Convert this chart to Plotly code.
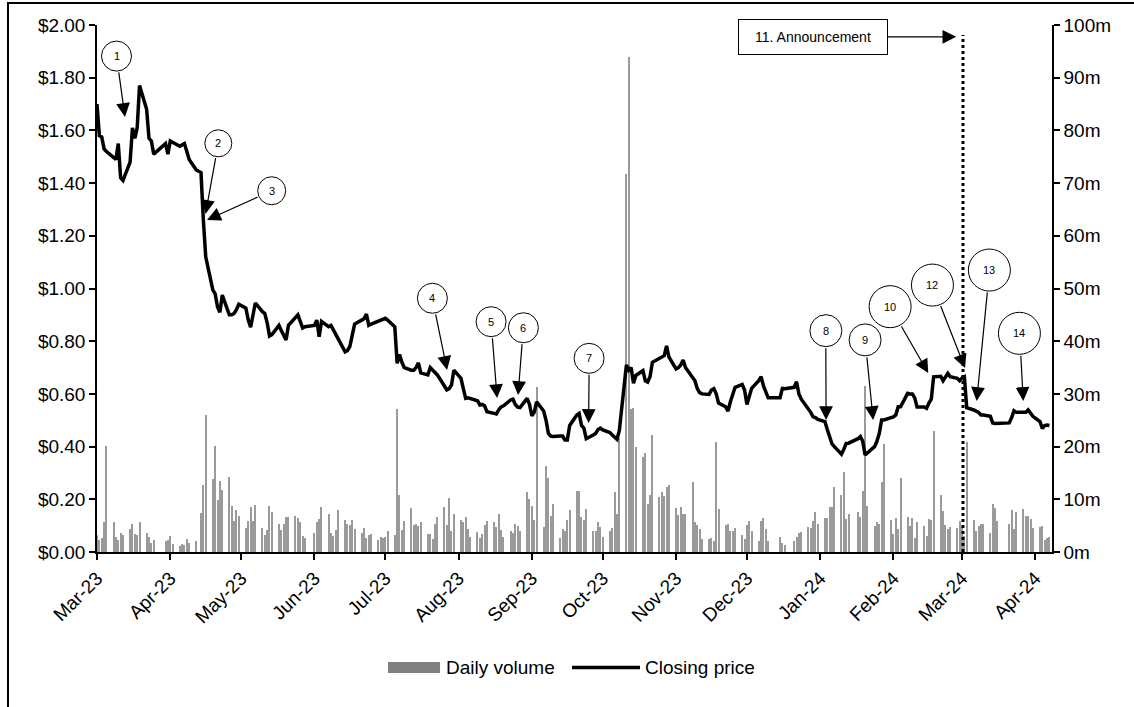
import pandas as pd
import plotly.graph_objects as go

# ---------------- data ----------------
start_date = "2023-03-13"
end_date = "2024-04-19"
market_holidays = ["2023-04-07", "2023-04-10", "2023-04-25", "2023-06-12", "2023-12-25",
                   "2023-12-26", "2024-01-01", "2024-01-26", "2024-03-29", "2024-04-01"]

# closing price ($) per trading day, by calendar month
price_mar23 = [1.70, 1.58, 1.575, 1.53, 1.52, 1.50, 1.49, 1.55, 1.42, 1.41, 1.48, 1.61, 1.57, 1.61, 1.77]
price_apr23 = [1.68, 1.57, 1.56, 1.51, 1.55, 1.51, 1.56, 1.555, 1.54, 1.545, 1.55, 1.52, 1.49,
               1.45, 1.44, 1.26, 1.12]
price_may23 = [0.995, 0.98, 0.93, 0.91, 0.975, 0.90, 0.90, 0.905, 0.92, 0.94, 0.925, 0.88, 0.853,
               0.90, 0.945, 0.912, 0.905, 0.87, 0.82, 0.825, 0.86, 0.84, 0.82]
price_jun23 = [0.805, 0.86, 0.89, 0.90, 0.875, 0.85, 0.855, 0.86, 0.88, 0.817, 0.875, 0.855, 0.86,
               0.842, 0.83, 0.81, 0.76, 0.765, 0.78, 0.83, 0.865]
price_jul23 = [0.88, 0.885, 0.903, 0.86, 0.865, 0.875, 0.88, 0.885, 0.887, 0.88, 0.855, 0.716, 0.75,
               0.72, 0.70, 0.69, 0.69, 0.70, 0.718, 0.68, 0.672]
price_aug23 = [0.70, 0.69, 0.68, 0.672, 0.63, 0.615, 0.62, 0.634, 0.69, 0.659, 0.62, 0.583, 0.585,
               0.583, 0.574, 0.558, 0.56, 0.555, 0.532, 0.526, 0.524, 0.54, 0.551]
price_sep23 = [0.555, 0.577, 0.58, 0.56, 0.55, 0.548, 0.583, 0.56, 0.517, 0.53, 0.57, 0.535, 0.50,
               0.45, 0.44, 0.438, 0.44, 0.44, 0.425, 0.425, 0.48]
price_oct23 = [0.52, 0.526, 0.48, 0.47, 0.43, 0.444, 0.45, 0.465, 0.47, 0.463, 0.453, 0.444, 0.435,
               0.428, 0.46, 0.71, 0.69, 0.70, 0.64, 0.67, 0.688, 0.65]
price_nov23 = [0.645, 0.665, 0.72, 0.735, 0.74, 0.745, 0.782, 0.74, 0.695, 0.70, 0.71, 0.729, 0.70,
               0.665, 0.65, 0.62, 0.605, 0.60, 0.598, 0.615, 0.62, 0.60]
price_dec23 = [0.565, 0.551, 0.535, 0.57, 0.60, 0.625, 0.636, 0.615, 0.56, 0.59, 0.621, 0.65, 0.665,
               0.63, 0.61, 0.585, 0.585, 0.621, 0.62]
price_jan24 = [0.625, 0.646, 0.60, 0.58, 0.545, 0.53, 0.513, 0.51, 0.503, 0.495, 0.465, 0.44, 0.41,
               0.40, 0.371, 0.39, 0.412, 0.413, 0.43, 0.438, 0.42]
price_feb24 = [0.368, 0.375, 0.40, 0.42, 0.45, 0.501, 0.501, 0.51, 0.513, 0.52, 0.551, 0.551, 0.602,
               0.60, 0.60, 0.585, 0.55, 0.55, 0.545, 0.565, 0.58]
price_mar24 = [0.665, 0.667, 0.65, 0.665, 0.678, 0.665, 0.659, 0.65, 0.66, 0.665, 0.548, 0.539, 0.535,
               0.53, 0.52, 0.52, 0.515, 0.49, 0.488, 0.488]
price_apr24 = [0.49, 0.51, 0.536, 0.53, 0.53, 0.53, 0.539, 0.525, 0.515, 0.495, 0.469, 0.48, 0.482, 0.48]

# daily volume (millions of shares) per trading day, by calendar month
vol_mar23 = [3.2, 2.3, 2.6, 5.6, 20.1, 5.6, 2.8, 2.3, 3.7, 3.3, 4.4, 5.4, 3.4, 3.2, 5.6]
vol_apr23 = [3.7, 2.8, 1.8, 2.2, 2.0, 2.3, 3.0, 1.5, 1.2, 1.6, 1.3, 2.4, 1.8, 2.1, 7.4, 12.7, 26.0]
vol_may23 = [13.8, 20.1, 9.9, 13.5, 11.8, 14.2, 8.7, 5.9, 7.9, 6.8, 4.5, 5.8, 8.5, 5.9, 9.0,
             4.5, 3.3, 4.2, 8.7, 7.5, 5.3, 4.2, 5.3]
vol_jun23 = [6.6, 6.6, 6.9, 6.5, 5.7, 3.0, 2.6, 3.7, 5.6, 6.3, 8.5, 7.2, 3.7, 3.0, 4.2, 8.0,
             6.0, 5.3, 5.1, 6.1, 4.4]
vol_jul23 = [3.7, 4.5, 2.7, 3.3, 3.5, 2.3, 2.8, 2.6, 2.8, 3.9, 3.2, 27.2, 10.8, 4.2, 5.9,
             8.4, 5.1, 5.3, 4.9, 5.6, 3.5]
vol_aug23 = [3.5, 2.5, 5.4, 6.6, 8.5, 5.1, 10.3, 4.0, 7.3, 6.0, 5.6, 6.7, 4.4, 2.9,
             3.8, 2.6, 3.5, 5.1, 5.8, 5.6, 4.7, 7.3, 4.2]
vol_sep23 = [2.8, 3.9, 3.7, 5.4, 4.9, 3.9, 11.4, 10.0, 8.7, 6.1, 31.4, 4.7, 16.4, 14.0, 6.9, 9.1,
             2.6, 4.4, 3.9, 6.1, 8.0]
vol_oct23 = [11.6, 11.6, 6.6, 6.1, 8.1, 4.0, 4.0, 5.6, 4.8, 2.9, 4.0, 4.5, 11.3, 7.2, 21.6,
             71.7, 93.9, 27.1, 27.3, 19.9, 18.0, 18.7]
vol_nov23 = [9.2, 10.8, 22.2, 10.4, 11.3, 10.6, 12.4, 12.7, 8.4, 7.0, 8.6, 7.3, 7.2,
             13.3, 5.6, 5.1, 4.4, 2.5, 2.5, 2.7, 2.0, 20.8]
vol_dec23 = [8.2, 5.1, 5.3, 3.9, 4.0, 4.6, 3.2, 2.5, 5.1, 5.8, 4.0, 2.1, 5.8, 6.4, 4.4, 2.1, 2.8, 1.8, 1.3]
vol_jan24 = [2.0, 2.9, 3.7, 3.8, 4.7, 4.6, 5.9, 7.6, 5.3, 6.4, 6.4, 8.5, 8.5, 12.3,
             10.8, 15.2, 6.3, 7.2, 7.6, 6.6, 11.5]
vol_feb24 = [31.5, 8.7, 5.0, 5.6, 5.3, 13.3, 20.5, 6.1, 3.4, 6.4, 4.4, 14.0, 6.7, 5.0, 6.5, 2.6, 5.6,
             5.0, 3.0, 6.2, 6.1]
vol_mar24 = [23.0, 10.8, 7.8, 5.1, 4.3, 4.7, 4.6, 5.8, 5.0, 3.0, 20.8, 6.1, 4.0, 4.9, 5.3, 5.4,
             3.7, 9.2, 8.4, 5.9]
vol_apr24 = [5.4, 8.0, 4.4, 7.6, 8.2, 6.8, 6.8, 6.3, 4.5, 4.8, 5.0, 2.3, 2.6, 2.9]

tick_dates = ["2023-03-13", "2023-04-13", "2023-05-13", "2023-06-13", "2023-07-13", "2023-08-13",
              "2023-09-13", "2023-10-13", "2023-11-13", "2023-12-13", "2024-01-13", "2024-02-13",
              "2024-03-13", "2024-04-13"]
tick_labels = ["Mar-23", "Apr-23", "May-23", "Jun-23", "Jul-23", "Aug-23", "Sep-23", "Oct-23",
               "Nov-23", "Dec-23", "Jan-24", "Feb-24", "Mar-24", "Apr-24"]
price_ticks = [0.0, 0.2, 0.4, 0.6, 0.8, 1.0, 1.2, 1.4, 1.6, 1.8, 2.0]
price_tick_labels = ["$0.00", "$0.20", "$0.40", "$0.60", "$0.80", "$1.00", "$1.20", "$1.40",
                     "$1.60", "$1.80", "$2.00"]
volume_ticks = [0, 10, 20, 30, 40, 50, 60, 70, 80, 90, 100]
volume_tick_labels = ["0m", "10m", "20m", "30m", "40m", "50m", "60m", "70m", "80m", "90m", "100m"]

announcement_date = "2024-03-13 10:00"
announcement_label = "11. Announcement"

# ---------------- assemble ----------------
price = (price_mar23 + price_apr23 + price_may23 + price_jun23 + price_jul23 + price_aug23 +
         price_sep23 + price_oct23 + price_nov23 + price_dec23 + price_jan24 + price_feb24 +
         price_mar24 + price_apr24)
volume = (vol_mar23 + vol_apr23 + vol_may23 + vol_jun23 + vol_jul23 + vol_aug23 + vol_sep23 +
          vol_oct23 + vol_nov23 + vol_dec23 + vol_jan24 + vol_feb24 + vol_mar24 + vol_apr24)
dates = [d for d in pd.bdate_range(start_date, end_date) if d.strftime("%Y-%m-%d") not in market_holidays]
if not (len(dates) == len(price) == len(volume)):
    raise ValueError(f"length mismatch {len(dates)} {len(price)} {len(volume)}")

FONT = "Liberation Sans, Arial, sans-serif"
DAY_MS = 86400000

fig = go.Figure()
fig.add_trace(go.Bar(x=dates, y=volume, yaxis="y", width=0.45 * DAY_MS,
                     marker=dict(color="#9a9a9a", line=dict(width=0)),
                     name="Daily volume", showlegend=False))
fig.add_trace(go.Scatter(x=dates, y=price, yaxis="y2", mode="lines",
                         line=dict(color="black", width=3.5),
                         name="Closing price", showlegend=False))

axis_common = dict(showline=True, linecolor="black", linewidth=1.5, ticks="outside",
                   ticklen=6, tickwidth=1.5, tickcolor="black", showgrid=False, zeroline=False,
                   tickfont=dict(family=FONT, size=19, color="black"))

fig.update_layout(
    width=1134, height=707,
    margin=dict(l=97, r=82, t=25, b=155),
    paper_bgcolor="white", plot_bgcolor="white",
    font=dict(family=FONT, color="black"),
    xaxis=dict(type="date", range=["2023-03-13", "2024-04-20 02:00"],
               tickmode="array", tickvals=tick_dates, ticktext=tick_labels, tickangle=-45,
               **axis_common),
    yaxis=dict(side="right", range=[0, 100], tickmode="array", tickvals=volume_ticks,
               ticktext=volume_tick_labels, **axis_common),
    yaxis2=dict(side="left", overlaying="y", range=[0, 2], tickmode="array",
                tickvals=price_ticks, ticktext=price_tick_labels, **axis_common),
    bargap=0,
)

shapes = []
annotations = []

# dotted announcement line
shapes.append(dict(type="line", xref="x", yref="y2", x0=announcement_date, x1=announcement_date,
                   y0=0, y1=1.962, line=dict(color="black", width=3, dash="dot")))

# numbered callouts: (label, tip date, tip price, circle date, circle price, radius, ax, ay)
callouts = [
    ("1", "2023-03-24 20:00", 1.651, "2023-03-21 06:00", 1.882, 15, -6.4, -46.1),
    ("2", "2023-04-27 22:00", 1.283, "2023-05-03 08:00", 1.551, 13.5, 10.4, -57.4),
    ("3", "2023-04-28 13:00", 1.260, "2023-05-25 22:00", 1.371, 14, 51.9, -23.5),
    ("4", "2023-08-08 03:00", 0.691, "2023-08-01 22:00", 0.963, 15, -11.7, -57.0),
    ("5", "2023-08-29 07:00", 0.584, "2023-08-26 18:00", 0.874, 15, -4.8, -61.3),
    ("6", "2023-09-07 04:00", 0.596, "2023-09-09 10:00", 0.851, 15, 4.1, -52.3),
    ("7", "2023-10-07 00:00", 0.490, "2023-10-07 05:00", 0.735, 15, 0.5, -49.7),
    ("8", "2024-01-15 12:00", 0.501, "2024-01-15 10:00", 0.840, 16, -0.3, -73.3),
    ("9", "2024-02-04 10:00", 0.501, "2024-02-01 00:00", 0.805, 16, -6.4, -64.1),
    ("10", "2024-02-27 17:00", 0.679, "2024-02-11 14:00", 0.931, 21, -27.6, -48.1),
    ("12", "2024-03-14 07:00", 0.698, "2024-02-29 12:00", 1.013, 21, -25.0, -63.5),
    ("13", "2024-03-19 05:00", 0.573, "2024-03-24 14:00", 1.070, 21, 10.8, -110.1),
    ("14", "2024-04-07 22:00", 0.573, "2024-04-06 07:00", 0.830, 21, -2.5, -46.7),
]
for label, tx, ty, cx, cy, r, ax, ay in callouts:
    shapes.append(dict(type="circle", xref="x", yref="y2", xsizemode="pixel", ysizemode="pixel",
                       xanchor=cx, yanchor=cy, x0=-r, x1=r, y0=-r, y1=r,
                       line=dict(color="black", width=1), fillcolor="white", layer="above"))
    annotations.append(dict(x=cx, y=cy, xref="x", yref="y2", text=label, showarrow=False,
                            font=dict(family=FONT, size=11, color="black")))
    annotations.append(dict(x=tx, y=ty, xref="x", yref="y2", text="", showarrow=True,
                            ax=ax, ay=ay, arrowhead=2, arrowsize=2.3, arrowwidth=1.2,
                            arrowcolor="black", standoff=0, startstandoff=0))

# announcement box with arrow
annotations.append(dict(x="2024-03-10 14:00", y=1.955, xref="x", yref="y2", text=announcement_label,
                        showarrow=True, ax=-143, ay=0, arrowhead=2, arrowsize=2.3, arrowwidth=1.2,
                        arrowcolor="black", bordercolor="black", borderwidth=1, borderpad=4,
                        bgcolor="white", width=140, height=26,
                        font=dict(family=FONT, size=14, color="black")))

# custom legend (wide swatches like the original)
shapes.append(dict(type="rect", xref="paper", yref="paper", x0=0.3047, x1=0.3592,
                   y0=-0.2296, y1=-0.2087, fillcolor="#808080", line=dict(width=0)))
annotations.append(dict(x=0.3634, y=-0.2192, xref="paper", yref="paper", text="Daily volume",
                        showarrow=False, xanchor="left", yanchor="middle",
                        font=dict(family=FONT, size=19, color="black")))
shapes.append(dict(type="line", xref="paper", yref="paper", x0=0.4974, x1=0.5686,
                   y0=-0.2192, y1=-0.2192, line=dict(color="black", width=3.5)))
annotations.append(dict(x=0.5717, y=-0.2192, xref="paper", yref="paper", text="Closing price",
                        showarrow=False, xanchor="left", yanchor="middle",
                        font=dict(family=FONT, size=19, color="black")))

# outer frame of the figure box
shapes.append(dict(type="rect", xref="paper", yref="paper", x0=-0.0932, x1=1.3,
                   y0=-0.5, y1=1.0418, line=dict(color="black", width=2), fillcolor="rgba(0,0,0,0)",
                   layer="above"))

fig.update_layout(shapes=shapes, annotations=annotations)
fig.write_html("out.html", config={"displayModeBar": False},
               post_script="document.body.style.margin='0';document.body.style.padding='0';")
